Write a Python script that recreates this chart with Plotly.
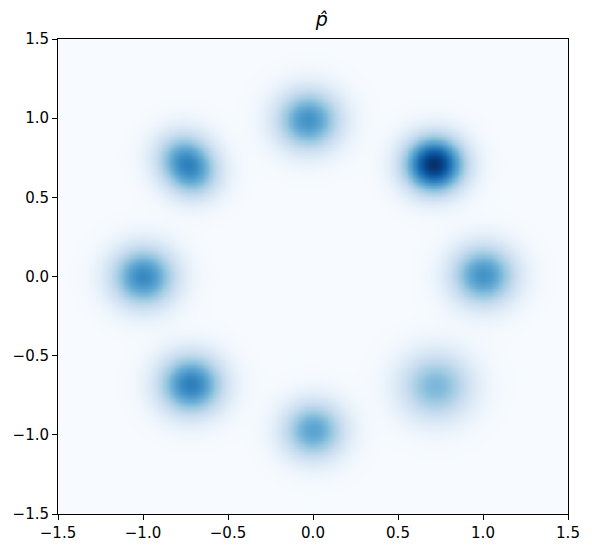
import numpy as np
import plotly.graph_objects as go

# mixture components (centre, relative peak, width)
centre_x = [-0.03, 0.71, 1.00, 0.72, 0.00, -0.72, -1.00, -0.77, -0.70]
centre_y = [0.99, 0.71, 0.01, -0.69, -0.97, -0.68, 0.00, 0.76, 0.64]
peak = [0.62, 1.00, 0.62, 0.46, 0.55, 0.70, 0.66, 0.45, 0.38]
width = [0.135, 0.125, 0.135, 0.15, 0.13, 0.135, 0.135, 0.12, 0.115]

tick_vals = [-1.5, -1.0, -0.5, 0.0, 0.5, 1.0, 1.5]
tick_text = ["\u22121.5", "\u22121.0", "\u22120.5", "0.0", "0.5", "1.0", "1.5"]

blues = ['rgb(247,251,255)', 'rgb(222,235,247)', 'rgb(198,219,239)',
         'rgb(158,202,225)', 'rgb(107,174,214)', 'rgb(66,146,198)',
         'rgb(33,113,181)', 'rgb(8,81,156)', 'rgb(8,48,107)']

grid = np.linspace(-1.5, 1.5, 301)
gx, gy = np.meshgrid(grid, grid)
z = np.zeros_like(gx)
for cx, cy, a, s in zip(centre_x, centre_y, peak, width):
    z += a * np.exp(-((gx - cx) ** 2 + (gy - cy) ** 2) / (2 * s ** 2))

fig = go.Figure(go.Heatmap(
    x=grid, y=grid, z=z,
    colorscale=[[i / 8, c] for i, c in enumerate(blues)],
    zmin=0, zmax=z.max(),
    zsmooth='best',
    showscale=False,
))

axis_style = dict(
    range=(-1.5, 1.5),
    tickmode='array',
    tickvals=tick_vals,
    ticktext=tick_text,
    ticks='outside',
    ticklen=5,
    tickcolor='black',
    showline=True,
    linecolor='black',
    linewidth=1,
    mirror=True,
    showgrid=False,
    zeroline=False,
    automargin=False,
)

# page body adds 8px, so margins are shifted to keep the plot box in place
fig.update_layout(
    width=592,
    height=547,
    margin=dict(l=50, r=32, t=31, b=41),
    paper_bgcolor='white',
    plot_bgcolor='white',
    font=dict(family='DejaVu Sans', size=15, color='black'),
    title=dict(text='<i>p\u0302</i>', x=0.53, xanchor='center',
               y=0.98, yanchor='middle', font=dict(size=19)),
    xaxis=axis_style,
    yaxis=axis_style,
)

fig.write_html("out.html")
